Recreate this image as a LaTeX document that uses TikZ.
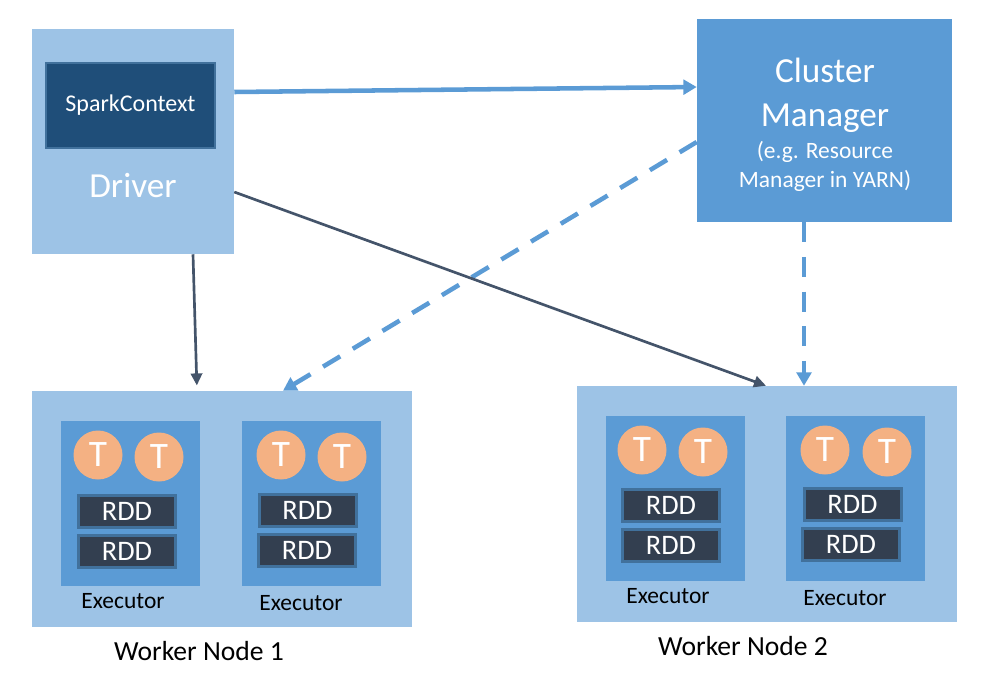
\documentclass[tikz,border=0pt]{standalone}
\usepackage{fontspec}
\setmainfont{Carlito}
\usetikzlibrary{arrows.meta}

\definecolor{lightblue}{HTML}{9DC3E6}
\definecolor{midblue}{HTML}{5B9BD5}
\definecolor{navy}{HTML}{1F4E79}
\definecolor{slate}{HTML}{333F50}
\definecolor{rddedge}{HTML}{41719C}
\definecolor{peach}{HTML}{F4B183}
\definecolor{darkline}{HTML}{44546A}

\begin{document}
\begin{tikzpicture}[
        x=0.75pt, y=-0.75pt,
        outer/.style={
            fill=lightblue,
            inner sep=0pt
        },
        worker/.style={
            outer,
            minimum width=285pt,
            minimum height=177pt
        },
        exec/.style={
            fill=midblue,
            inner sep=0pt,
            minimum width=104.25pt,
            minimum height=123.75pt
        },
        task/.style={
            circle,
            fill=peach,
            inner sep=0pt,
            minimum size=36.75pt,
            text=white,
            font=\fontsize{28}{30}\selectfont
        },
        rdd/.style={
            draw=rddedge,
            line width=2.25pt,
            fill=slate,
            inner sep=0pt,
            minimum width=72.75pt,
            minimum height=24pt,
            text=white,
            font=\fontsize{21.2}{25}\selectfont
        },
        whitetext/.style={text=white, align=center},
        lbl/.style={text=black, font=\fontsize{17.6}{21}\selectfont},
        arrow/.style={-{Triangle[length=9pt,width=8.5pt]}, line width=2pt, draw=darkline},
        bluearrow/.style={-{Triangle[length=10pt,width=11pt]}, line width=3.4pt, draw=midblue},
        dasharrow/.style={bluearrow, dash pattern=on 15pt off 11pt}
    ]

    \useasboundingbox (0,0) rectangle (986,686);

    % driver
    \node[outer, minimum width=151.5pt, minimum height=168.75pt] (driver) at (133,141.5) {};
    \node[draw=rddedge, line width=1.5pt, fill=navy, inner sep=0pt,
          minimum width=126.75pt, minimum height=63.75pt,
          text=white, font=\fontsize{18}{22}\selectfont] (sc) at (130.5,105.5) {SparkContext};
    \node[whitetext, font=\fontsize{26.4}{30}\selectfont] (drv) at (133,186) {Driver};

    % cluster manager
    \node[fill=midblue, inner sep=0pt, minimum width=191.25pt, minimum height=152.25pt] (cm) at (824.5,120.5) {};
    \node[whitetext, font=\fontsize{26.4}{33}\selectfont] (cmtitle) at (825,95) {Cluster\\Manager};
    \node[whitetext, font=\fontsize{17.6}{21.75}\selectfont] (cmnote) at (825,166) {(e.g. Resource\\Manager in YARN)};

    % worker node 1
    \node[worker] (w1) at (222,509) {};
    \node[exec] (ex1) at (130.5,503.5) {};
    \node[exec] (ex2) at (311,503.5) {};
    \node[task] (t1a) at (98,455) {T};
    \node[task] (t1b) at (159,457) {T};
    \node[task] (t2a) at (281,455) {T};
    \node[task] (t2b) at (342,457) {T};
    \node[rdd] (r1a) at (127,511) {RDD};
    \node[rdd] (r1b) at (127,551) {RDD};
    \node[rdd] (r2a) at (307.5,510) {RDD};
    \node[rdd] (r2b) at (307,550) {RDD};
    \node[lbl] (e1) at (123,601) {Executor};
    \node[lbl] (e2) at (301,603) {Executor};
    \node[lbl, font=\fontsize{20.7}{24}\selectfont] (wn1) at (199,651) {Worker Node 1};

    % worker node 2
    \node[worker] (w2) at (767,504) {};
    \node[exec] (ex3) at (675,498.5) {};
    \node[exec] (ex4) at (855,498.5) {};
    \node[task] (t3a) at (642,450) {T};
    \node[task] (t3b) at (703,452) {T};
    \node[task] (t4a) at (825,450) {T};
    \node[task] (t4b) at (887,452) {T};
    \node[rdd] (r3a) at (671,505.5) {RDD};
    \node[rdd] (r3b) at (671,545.5) {RDD};
    \node[rdd] (r4a) at (852.5,504.5) {RDD};
    \node[rdd] (r4b) at (851,544.5) {RDD};
    \node[lbl] (e3) at (668,596) {Executor};
    \node[lbl] (e4) at (845,598) {Executor};
    \node[lbl, font=\fontsize{20.7}{24}\selectfont] (wn2) at (743,646) {Worker Node 2};

    % connectors
    \draw[bluearrow] (driver.east |- 0,92) -- (cm.west |- 0,87);
    \draw[dasharrow] (cm.west |- 0,142) -- (w1.north -| 283,0);
    \draw[dasharrow] (cm.south -| 804,0) -- (w2.north -| 804,0);
    \draw[arrow, shorten >=4pt] (driver.south -| 193,0) -- (w1.north -| 197,0);
    \draw[arrow] (driver.east |- 0,192) -- (w2.north -| 766,0);

\end{tikzpicture}
\end{document}
